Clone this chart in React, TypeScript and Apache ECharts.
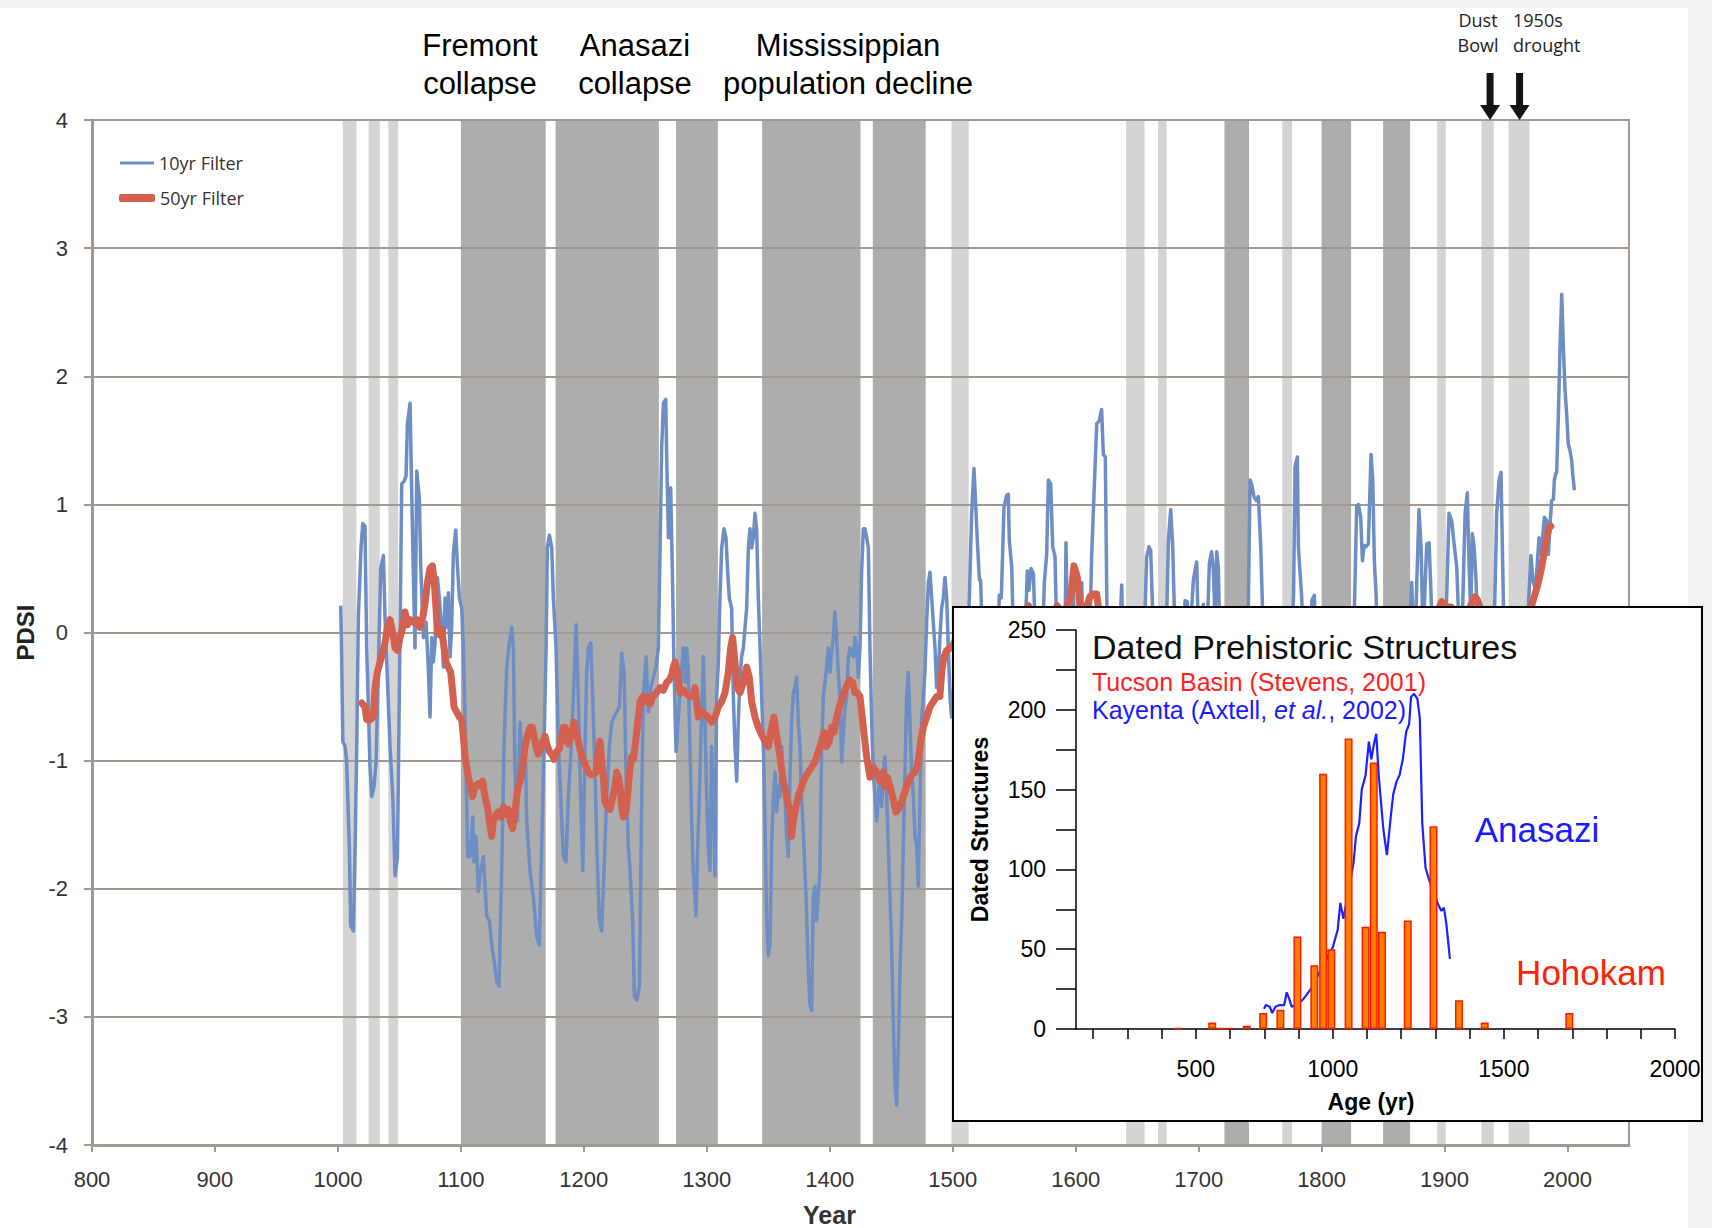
import React, { useEffect, useRef } from "react";
import * as echarts from "echarts";

// ---------------- main chart data ----------------
const X_TICKS = [800, 900, 1000, 1100, 1200, 1300, 1400, 1500, 1600, 1700, 1800, 1900, 2000];
const Y_TICKS = [-4, -3, -2, -1, 0, 1, 2, 3, 4];

const DARK_BANDS: [number, number][] = [
  [1100, 1169], [1177, 1261], [1275, 1309], [1345, 1425], [1435, 1478],
  [1721, 1741], [1800, 1824], [1850, 1872],
];
const LIGHT_BANDS: [number, number][] = [
  [1004, 1015], [1025, 1034], [1041, 1049], [1499, 1513], [1641, 1656],
  [1667, 1674], [1768, 1776], [1894, 1901], [1930, 1940], [1952, 1969],
];

const BLUE_10YR: [number, number][] = [
  [1002.3, 0.21], [1003, -0.16], [1004, -0.85], [1005.8, -0.89], [1007, -0.99], [1009.3, -1.67], [1010.4, -2.29],
  [1012.6, -2.33], [1014, -1.67], [1015.3, -0.89], [1016.6, 0.12], [1018.8, 0.66], [1020.2, 0.85], [1022, 0.83],
  [1023.4, -0.12], [1026.1, -1.05], [1027.5, -1.28], [1029.4, -1.2], [1031, -1.01], [1032.9, -0.27], [1034.8, 0.5],
  [1037, 0.6], [1038.3, 0.12], [1040.2, -0.35], [1042.4, -0.89], [1044.6, -1.28], [1046.5, -1.9], [1048.4, -1.75],
  [1050, -0.43], [1051.9, 1.16], [1053.8, 1.18], [1055.4, 1.22], [1056.5, 1.63], [1058.7, 1.79], [1059.7, 1.24],
  [1061.4, 0.43], [1062.7, -0.12], [1064.1, 1.26], [1066.2, 1.05], [1067.3, 0.54], [1069.5, -0.04], [1071.7, 0.08],
  [1073.5, -0.27], [1074.9, -0.66], [1076.3, -0.04], [1077.6, -0.23], [1079, -0.08], [1080.9, 0.43], [1082.5, 0.27],
  [1084.4, 0.04], [1085.8, -0.27], [1087.1, 0.27], [1088.5, 0.04], [1089.8, 0.31], [1091.2, -0.19], [1092.5, 0.04],
  [1093.9, 0.62], [1095.8, 0.8], [1097.1, 0.54], [1098.8, 0.27], [1100.7, 0.19], [1102, -0.12], [1103.9, -0.89],
  [1105.5, -1.75], [1107.5, -1.75], [1109.6, -1.44], [1110.7, -1.79], [1112.3, -1.59], [1114.2, -2.02], [1116.1, -1.86],
  [1118.3, -1.75], [1121, -2.21], [1123.2, -2.25], [1125.1, -2.44], [1127, -2.56], [1129.1, -2.72], [1131, -2.76],
  [1133.2, -1.86], [1135.1, -0.89], [1137.3, -0.27], [1139.4, -0.08], [1141.3, 0.04], [1142.7, -0.12], [1144, -1.09],
  [1145.9, -1.47], [1148.1, -0.7], [1150.3, -1.09], [1152.2, -0.81], [1153.5, -1.47], [1156.2, -1.86], [1158.9, -2.06],
  [1161.7, -2.37], [1163.8, -2.44], [1165.7, -1.67], [1167.6, -0.89], [1169.3, -0.12], [1170.3, 0.66], [1172, 0.76],
  [1173.9, 0.66], [1175.2, 0.27], [1177.4, -0.12], [1179.3, -0.89], [1181.2, -1.28], [1183.4, -1.75], [1185.5, -1.79],
  [1187.4, -1.28], [1189.3, -0.97], [1191.5, -0.5], [1193.7, 0.06], [1195.5, -0.5], [1197.4, -1.28], [1199.1, -1.86],
  [1201, -0.89], [1202.3, -0.31], [1203.7, -0.12], [1205.6, -0.08], [1207.2, -0.5], [1209.1, -1.09], [1210.5, -1.67],
  [1212.6, -2.25], [1214.5, -2.33], [1216.4, -1.86], [1218.6, -1.28], [1220.8, -0.89], [1222.7, -0.7], [1224.6, -0.66],
  [1226.7, -0.62], [1228.9, -0.58], [1230.8, -0.16], [1232.7, -0.31], [1234.3, -1.09], [1236.2, -1.67], [1237.6, -1.86],
  [1239.7, -2.25], [1241.1, -2.83], [1243, -2.87], [1245.2, -2.76], [1247.1, -1.28], [1248.4, -0.5], [1250.6, -0.19],
  [1252.5, -0.62], [1254.4, -0.43], [1256.5, -0.35], [1258.7, -0.27], [1260.6, -0.12], [1262, 0.66], [1263.3, 1.44],
  [1264.7, 1.79], [1266.6, 1.82], [1267.4, 1.36], [1268.8, 0.74], [1270.6, 1.13], [1272, 0.47], [1273.4, -0.31],
  [1275, -0.93], [1278.2, -0.47], [1280.9, -0.12], [1282.3, -0.39], [1283.6, -0.12], [1285, -0.31], [1286.3, -0.89],
  [1287.7, -1.47], [1289, -1.86], [1291.2, -2.21], [1292.6, -1.67], [1293.9, -1.28], [1295, -0.89], [1297.2, -0.19],
  [1298.5, -0.7], [1299.9, -1.28], [1301.2, -1.67], [1302.6, -1.86], [1303.9, -0.89], [1305.3, -1.28], [1306.7, -1.9],
  [1308, -0.5], [1309.4, -0.23], [1310.7, 0.27], [1312.1, 0.66], [1314, 0.81], [1315.6, 0.74], [1317, 0.47],
  [1318.3, 0.27], [1320.2, 0.19], [1321.6, -0.5], [1322.9, -0.89], [1324.3, -1.16], [1325.6, -0.7], [1327, -0.35],
  [1328.3, -0.19], [1329.7, -0.12], [1331.1, 0.04], [1332.4, 0.19], [1333.8, 0.66], [1335.1, 0.81], [1336.5, 0.66],
  [1337.8, 0.74], [1339.2, 0.93], [1340.5, 0.81], [1341.9, 0.27], [1343.3, -0.12], [1344.6, -0.5], [1346, -0.89],
  [1347.3, -1.47], [1348.7, -2.25], [1350, -2.52], [1351.4, -2.44], [1352.7, -1.67], [1354.1, -1.28], [1355.5, -1.09],
  [1356.8, -1.4], [1358.2, -1.2], [1359.5, -1.28], [1360.9, -0.89], [1362.2, -1.09], [1363.6, -1.28], [1364.9, -1.59],
  [1366.3, -1.75], [1367.7, -1.09], [1369, -0.7], [1370.4, -0.47], [1371.7, -0.43], [1373.1, -0.35], [1374.4, -0.7],
  [1375.8, -0.89], [1377.1, -1.28], [1379, -1.67], [1380.7, -2.06], [1382.6, -2.64], [1383.9, -2.91], [1385.3, -2.95],
  [1386.6, -2.06], [1388, -1.98], [1389.3, -2.25], [1390.7, -2.06], [1392, -1.86], [1393.4, -0.89], [1394.8, -0.5],
  [1396.1, -0.39], [1397.5, -0.27], [1398.8, -0.12], [1400.2, -0.31], [1401.5, -0.16], [1402.9, -0.04], [1404.2, 0.16],
  [1405.6, -0.04], [1406.9, -0.31], [1408.3, -0.5], [1409.7, -1.01], [1411, -0.81], [1412.4, -0.58], [1413.7, -0.5],
  [1415.1, -0.19], [1416.4, -0.12], [1417.8, -0.16], [1419.2, -0.19], [1420.5, -0.04], [1421.9, -0.12], [1423.2, -0.35],
  [1424.6, -0.12], [1425.9, 0.47], [1427.3, 0.81], [1428.6, 0.81], [1430, 0.74], [1431.4, 0.66], [1432.7, -0.12],
  [1434.1, -0.7], [1435.4, -1.09], [1436.8, -1.28], [1438.1, -1.47], [1439.5, -1.28], [1440.8, -1.09], [1442.2, -1.36],
  [1443.6, -1.09], [1444.9, -0.97], [1446.3, -1.28], [1447.6, -1.67], [1449, -2.06], [1450.3, -2.44], [1451.7, -3.03],
  [1453, -3.53], [1454.4, -3.69], [1455.8, -3.22], [1457.1, -2.64], [1458.5, -2.25], [1459.8, -1.67], [1461.2, -1.09],
  [1462.5, -0.5], [1463.9, -0.31], [1465.2, -0.7], [1466.6, -1.09], [1468, -1.28], [1469.3, -1.59], [1470.7, -1.67],
  [1472, -1.98], [1473.4, -1.28], [1474.7, -0.7], [1476.1, -0.5], [1477.4, -0.31], [1478.8, 0.08], [1480.2, 0.39],
  [1481.5, 0.47], [1482.9, 0.27], [1484.2, 0.08], [1485.6, -0.12], [1486.9, -0.43], [1488.3, -0.31], [1489.6, -0.04],
  [1491, 0.19], [1492.3, 0.27], [1493.7, 0.43], [1495.1, 0.27], [1496.4, -0.12], [1497.8, -0.5], [1499.1, -0.66],
  [1501, -0.4], [1505, -1.0], [1511, -0.6], [1515.4, 0.93], [1517.3, 1.28], [1519, 0.93], [1520, 0.72],
  [1521.7, 0.41], [1522.7, 0.41], [1524.5, -0.2], [1530, -1.2], [1536, -0.3], [1537.9, 0.29], [1539.5, 0.27],
  [1541.7, 0.98], [1543.9, 1.07], [1545.2, 1.08], [1546, 0.72], [1548, 0.51], [1549.5, -0.1], [1554, -0.9],
  [1558.5, -0.1], [1560.7, 0.48], [1562, 0.33], [1563.7, 0.5], [1565.6, 0.46], [1567.5, -0.1], [1570, -0.8],
  [1573, -0.1], [1574.5, 0.39], [1576.4, 0.61], [1577.8, 1.19], [1579.7, 1.16], [1581.3, 0.67], [1583.2, 0.59],
  [1585, -0.2], [1589, -0.7], [1591.5, 0.1], [1592.1, 0.7], [1593.5, -0.1], [1596, -0.6], [1598.1, 0.33],
  [1600, -0.4], [1603, -0.2], [1604.9, 0.39], [1606.5, -0.3], [1609, -0.9], [1611.5, 0.0], [1613, 0.6],
  [1617.1, 1.63], [1619, 1.65], [1621.1, 1.74], [1622.5, 1.39], [1624.1, 1.37], [1625.5, 0.1], [1629, -0.8],
  [1635, -0.2], [1637.4, 0.37], [1638.8, -0.2], [1645, -1.0], [1655, -0.3], [1657.7, 0.59], [1659.6, 0.67],
  [1661, 0.64], [1663.5, -0.1], [1668, -0.9], [1673.5, -0.1], [1675.4, 0.72], [1677.3, 0.96], [1678.9, 0.67],
  [1681, -0.1], [1685, -0.7], [1688.9, 0.25], [1690.8, 0.24], [1692, -0.2], [1695.7, 0.41], [1698.4, 0.55],
  [1700, -0.1], [1703.8, 0.22], [1706, -0.3], [1708.7, 0.54], [1710.6, 0.63], [1712, 0.48], [1713.3, 0.1],
  [1714.7, 0.63], [1716, 0.51], [1717.5, -0.2], [1725, -1.2], [1735, -0.8], [1740, -0.1], [1741.8, 1.19],
  [1743.1, 1.16], [1745, 1.06], [1746.7, 1.03], [1748.6, 1.06], [1750.5, 0.67], [1752.2, 0.1], [1758, -0.9],
  [1765, -0.5], [1770, -1.0], [1776.5, 0.1], [1777.2, 0.3], [1778.4, 1.29], [1780.3, 1.37], [1781.1, 0.67],
  [1782.5, 0.46], [1783.8, 0.28], [1785, -0.1], [1789, -0.4], [1792, 0.25], [1794.1, 0.29], [1795.5, -0.2],
  [1800, -1.0], [1812, -1.3], [1820, -0.6], [1826.5, 0.1], [1828.5, 0.98], [1829.9, 1.0], [1831.8, 0.9],
  [1833.2, 0.56], [1834.5, 0.68], [1835.9, 0.67], [1838, 0.69], [1840.2, 1.39], [1841.6, 1.19], [1842.9, 0.56],
  [1844.3, 0.3], [1846, -0.3], [1855, -1.1], [1865, -0.7], [1872, 0.1], [1873.3, 0.39], [1874.5, 0.0],
  [1876.5, 0.1], [1879.2, 0.96], [1880.9, 0.67], [1882.2, 0.1], [1883.5, 0.2], [1885.5, 0.69], [1887.4, 0.7],
  [1889, 0.3], [1890.5, -0.2], [1896, -0.8], [1901.2, 0.1], [1903.6, 0.93], [1905.8, 0.87], [1908, 0.67],
  [1909.9, 0.51], [1911.5, 0.1], [1914, -0.1], [1915.3, 0.41], [1916.7, 0.93], [1918.5, 1.09], [1919.9, 0.54],
  [1921.3, 0.15], [1922.6, 0.77], [1924, 0.67], [1925.6, 0.41], [1927.5, -0.2], [1933, -1.0], [1940.5, 0.1],
  [1942.4, 0.93], [1944.3, 1.19], [1945.9, 1.25], [1947, 0.67], [1948.5, -0.1], [1955, -1.1], [1962, -0.6],
  [1967.5, 0.1], [1968.2, 0.22], [1970.3, 0.6], [1971.8, 0.41], [1973.6, 0.35], [1975, 0.48], [1976.8, 0.74],
  [1978.4, 0.61], [1980.3, 0.8], [1981.2, 0.9], [1983.1, 0.87], [1984.4, 0.61], [1985.8, 0.85], [1987.1, 1.03],
  [1988.5, 1.04], [1989.3, 1.19], [1990.4, 1.24], [1991.2, 1.25], [1992.6, 1.71], [1993.9, 2.23], [1995.3, 2.64],
  [1996.6, 2.23], [1998, 1.89], [1999.3, 1.71], [2000.6, 1.47], [2002, 1.42], [2003.4, 1.34], [2004.2, 1.24],
  [2005.6, 1.11],
];

const RED_50YR: [number, number][] = [
  [1019.4, -0.55], [1022, -0.58], [1023.4, -0.68], [1026.1, -0.68], [1028.8, -0.66], [1030.2, -0.43], [1032.1, -0.31],
  [1034.3, -0.23], [1036.4, -0.16], [1038.3, -0.08], [1040.2, 0.04], [1042.4, 0.1], [1044.6, 0], [1046.5, -0.12],
  [1048.4, -0.14], [1050.5, -0.04], [1052.7, 0.04], [1054.6, 0.16], [1056.5, 0.06], [1058.7, 0.1], [1061.4, 0.08],
  [1064.1, 0.1], [1066.8, 0.04], [1069, 0.12], [1070.9, 0.23], [1072.8, 0.39], [1074.9, 0.5], [1076.8, 0.52],
  [1078.4, 0.39], [1079.8, 0.19], [1080.9, 0], [1083, -0.02], [1084.4, 0.02], [1085.8, -0.08], [1087.9, -0.23],
  [1089.8, -0.27], [1091.7, -0.31], [1093.4, -0.47], [1094.4, -0.58], [1096.6, -0.62], [1098.8, -0.66], [1100.7, -0.68],
  [1102, -0.81], [1103.4, -0.97], [1106.1, -1.13], [1107.9, -1.2], [1109.6, -1.28], [1111.5, -1.2], [1114.2, -1.18],
  [1116.1, -1.2], [1117.7, -1.16], [1119.6, -1.28], [1121.6, -1.36], [1123.7, -1.51], [1125.1, -1.59], [1126.4, -1.47],
  [1128.6, -1.42], [1130.5, -1.4], [1132.4, -1.44], [1134.6, -1.36], [1136.7, -1.42], [1138.6, -1.38], [1140, -1.47],
  [1142.1, -1.53], [1144, -1.4], [1145.9, -1.24], [1148.1, -1.16], [1150.3, -1.05], [1152.2, -0.89], [1154.1, -0.81],
  [1156.2, -0.74], [1158.1, -0.74], [1159.5, -0.81], [1161.1, -0.89], [1163, -0.95], [1164.9, -0.89], [1166.5, -0.85],
  [1168.4, -0.81], [1169.8, -0.87], [1172, -0.93], [1173.9, -0.95], [1175.8, -0.99], [1177.9, -0.93], [1180.1, -0.91],
  [1182, -0.81], [1183.4, -0.74], [1184.7, -0.74], [1186.1, -0.83], [1187.4, -0.87], [1189.3, -0.81], [1191, -0.74],
  [1192.1, -0.7], [1193.7, -0.78], [1195.5, -0.85], [1197.4, -0.93], [1199.6, -0.99], [1201.8, -1.05], [1203.7, -1.09],
  [1205.6, -1.11], [1207.7, -1.11], [1209.9, -1.09], [1211.8, -0.93], [1213.2, -0.85], [1214.5, -1.01], [1215.9, -1.13],
  [1217.2, -1.32], [1219.1, -1.36], [1221.3, -1.38], [1223.5, -1.28], [1225.4, -1.2], [1226.7, -1.09], [1228.1, -1.13],
  [1229.4, -1.2], [1230.8, -1.36], [1232.1, -1.44], [1234.3, -1.4], [1236.2, -1.2], [1237.6, -1.05], [1238.9, -0.97],
  [1240.3, -0.99], [1241.6, -0.89], [1243, -0.78], [1244.3, -0.66], [1245.7, -0.54], [1247.9, -0.5], [1249.8, -0.54],
  [1251.7, -0.5], [1253.8, -0.56], [1256, -0.5], [1259.2, -0.47], [1261.9, -0.43], [1264.7, -0.45], [1267.4, -0.39],
  [1269.6, -0.37], [1271.5, -0.33], [1272.8, -0.27], [1274.2, -0.23], [1276.1, -0.31], [1278.2, -0.47], [1281, -0.45],
  [1283.7, -0.48], [1286.4, -0.5], [1289.1, -0.49], [1290.4, -0.43], [1293.1, -0.66], [1295.8, -0.62], [1298.5, -0.64],
  [1301.2, -0.66], [1303.9, -0.7], [1306.7, -0.66], [1309.4, -0.58], [1312.1, -0.54], [1314.8, -0.47], [1317.5, -0.31],
  [1319.4, -0.12], [1321, -0.04], [1322.9, -0.23], [1324.8, -0.43], [1327, -0.47], [1329.7, -0.39], [1332.4, -0.27],
  [1334.6, -0.35], [1336.5, -0.54], [1339.2, -0.66], [1341.9, -0.74], [1344.6, -0.8], [1347.3, -0.85], [1350, -0.89],
  [1352.7, -0.74], [1354.6, -0.66], [1356.8, -0.81], [1359.5, -0.97], [1362.2, -1.16], [1364.9, -1.28], [1367.7, -1.4],
  [1369, -1.59], [1370.4, -1.47], [1372.5, -1.36], [1374.4, -1.28], [1377.1, -1.2], [1379.9, -1.13], [1382.6, -1.09],
  [1385.3, -1.05], [1388, -1.01], [1390.7, -0.93], [1393.4, -0.85], [1395.3, -0.78], [1397.5, -0.89], [1399.6, -0.85],
  [1401.5, -0.74], [1403.4, -0.78], [1405.6, -0.66], [1407.8, -0.58], [1410.5, -0.5], [1413.2, -0.43], [1415.9, -0.37],
  [1418.6, -0.39], [1420.5, -0.47], [1422.4, -0.47], [1424.6, -0.5], [1427.3, -0.74], [1430, -0.97], [1432.7, -1.13],
  [1435.4, -1.05], [1438.1, -1.09], [1440.8, -1.16], [1443.6, -1.09], [1444.9, -1.2], [1446.8, -1.13], [1449, -1.2],
  [1451.1, -1.28], [1453.9, -1.4], [1455.8, -1.38], [1458.5, -1.32], [1461.2, -1.24], [1463.9, -1.16], [1466.6, -1.11],
  [1469.3, -1.09], [1472, -1.01], [1473.9, -0.85], [1476.1, -0.74], [1478.8, -0.66], [1481.5, -0.58], [1484.2, -0.54],
  [1486.9, -0.5], [1489.6, -0.5], [1491, -0.31], [1492.9, -0.19], [1495.1, -0.14], [1497.8, -0.12], [1499.1, -0.12],
  [1505, 0.0], [1515, -0.1], [1530, -0.2], [1545, 0.0], [1556, 0.1], [1561.5, 0.21], [1566, 0.1], [1575, 0.0],
  [1582, 0.15], [1585, 0.21], [1590, 0.12], [1596, 0.28], [1598.6, 0.52], [1601.4, 0.43], [1603.5, 0.2],
  [1607, 0.15], [1611.6, 0.28], [1614, 0.3], [1617.1, 0.3], [1619, 0.15], [1630, -0.1], [1650, -0.3],
  [1670, -0.2], [1690, -0.1], [1710, 0.0], [1730, -0.2], [1750, -0.1], [1770, -0.2], [1790, -0.1], [1810, -0.3],
  [1830, -0.1], [1850, -0.2], [1870, -0.1], [1885, 0.05], [1895, 0.18], [1897.7, 0.24], [1901.7, 0.2],
  [1905.3, 0.2], [1910, 0.1], [1918, 0.15], [1924.8, 0.28], [1927, 0.25], [1932, 0.1], [1945, 0.0], [1960, 0.05],
  [1968, 0.15], [1970.8, 0.21], [1973.6, 0.3], [1976, 0.38], [1979, 0.51], [1981.2, 0.64], [1983.1, 0.74],
  [1985, 0.82], [1986.5, 0.83],
];

const ARROW_YEARS = [1937, 1961];
const LEGEND_NAMES = ["10yr Filter", "50yr Filter"];
const TOP_NOTES = ["Fremont\ncollapse", "Anasazi\ncollapse", "Mississippian\npopulation decline"];
const MODERN_NOTES = ["Dust\nBowl", "1950s\ndrought"];

// ---------------- inset data ----------------
const INSET_BAR_X = [435, 560, 591, 622, 686, 746, 809, 871, 933, 965, 995, 1058, 1120, 1150, 1180, 1274, 1368, 1461, 1555, 1864];
const INSET_BAR_Y = [0.5, 4, 0.5, 0.5, 2, 10, 12, 58, 40, 160, 50, 182, 64, 167, 61, 68, 127, 18, 4, 10];
const KAYENTA: [number, number][] = [
  [749, 12.7], [756, 15], [770, 14], [779, 10], [791, 14], [806, 15], [823, 15], [832, 23], [841, 19], [850, 14],
  [870, 15], [894, 19], [920, 25], [1000, 51], [1018, 62], [1028, 79], [1039, 69], [1076, 104], [1085, 121],
  [1097, 129], [1106, 150], [1120, 159], [1132, 180], [1141, 169], [1150, 178], [1159, 185], [1168, 159], [1185, 125],
  [1198, 109], [1212, 133], [1221, 147], [1233, 155], [1244, 159], [1256, 169], [1268, 186], [1279, 191], [1286, 208],
  [1297, 210], [1309, 207], [1318, 195], [1327, 129], [1339, 101], [1353, 93], [1385, 78], [1397, 74], [1406, 76],
  [1415, 66], [1428, 44],
];
const INSET_Y_TICKS = [0, 25, 50, 75, 100, 125, 150, 175, 200, 225, 250];
const INSET_X_TICKS = [125, 250, 375, 500, 625, 750, 875, 1000, 1125, 1250, 1375, 1500, 1625, 1750, 1875, 2000, 2125, 2250];
const INSET_X_LABEL_AT = [500, 1000, 1625, 2250];
const INSET_X_LABEL_TEXT = ["500", "1000", "1500", "2000"];
const INSET_TITLES = ["Dated Prehistoric Structures", "Tucson Basin (Stevens, 2001)"];
const INSET_NAMES = ["Anasazi", "Hohokam"];

// ---------------- styling ----------------
const GRID = "#a39890";
const BLUE = "#6d8ec4";
const RED = "#d4604f";
const DARK = "#adadad";
const LIGHT = "#d4d4d4";
const SANS = '"Liberation Sans", Arial, sans-serif';
const NARROW = '"Liberation Sans Narrow", "Liberation Sans", sans-serif';
const OPEN = '"Open Sans", sans-serif';
const ARROW = "path://M6.5,0 L13.5,0 L13.5,32 L20,32 L10,47 L0,32 L6.5,32 Z";

function text(x: number, y: number, t: string, style: any, z = 20) {
  return {
    type: "text",
    x,
    y,
    z,
    silent: true,
    style: {
      text: t,
      fill: "#000",
      align: "center",
      verticalAlign: "middle",
      textAlign: "center",
      textVerticalAlign: "middle",
      ...style,
    },
  };
}

function buildOption() {
  const bandData = [
    ...DARK_BANDS.map(([a, b]) => [{ xAxis: a, itemStyle: { color: DARK, opacity: 1 } }, { xAxis: b }]),
    ...LIGHT_BANDS.map(([a, b]) => [{ xAxis: a, itemStyle: { color: LIGHT, opacity: 1 } }, { xAxis: b }]),
  ];
  const topX = [480, 635, 848];
  const legendText = { fontFamily: OPEN, fontSize: 18, color: "#333" };
  const left = (s: any) => ({ ...s, align: "left", textAlign: "left" });

  return {
    animation: false,
    grid: [
      {
        left: 92, top: 120, width: 1537, height: 1025, show: true, borderColor: GRID, borderWidth: 2,
        backgroundColor: "transparent", z: 2, containLabel: false, outerBoundsMode: "none",
      },
      { left: 1076, top: 630, width: 599, height: 399, z: 11, containLabel: false, outerBoundsMode: "none" },
    ],
    legend: [
      {
        left: 115, top: 149, itemWidth: 34, itemHeight: 8, selectedMode: false, textStyle: legendText,
        data: [{ name: LEGEND_NAMES[0], icon: "path://M0,0 M34,8 M0,2.5 L34,2.5 L34,5.5 L0,5.5 Z", itemStyle: { color: BLUE, borderWidth: 0 } }],
      },
      {
        left: 114, top: 184, itemWidth: 36, itemHeight: 8, selectedMode: false, textStyle: legendText,
        data: [{ name: LEGEND_NAMES[1], icon: "roundRect", itemStyle: { color: RED, borderWidth: 0 } }],
      },
    ],
    xAxis: [
      {
        type: "value", gridIndex: 0, min: 800, max: 2050, interval: 100, z: 2,
        axisLine: { show: true, onZero: false, lineStyle: { color: GRID, width: 3 } },
        axisTick: { show: true, length: 7, customValues: X_TICKS, lineStyle: { color: GRID, width: 2 } },
        axisLabel: {
          customValues: X_TICKS, margin: 23, fontFamily: SANS, fontSize: 22, color: "#333",
          formatter: (v: number) => (v % 100 === 0 && v <= 2000 ? String(v) : ""),
        },
        splitLine: { show: false },
        name: "Year", nameLocation: "middle", nameGap: 57,
        nameTextStyle: { fontFamily: NARROW, fontWeight: "bold", fontSize: 25, color: "#333", padding: [0, 62, 0, 0] },
      },
      {
        type: "value", gridIndex: 1, min: 62.5, max: 2250, z: 11,
        axisLine: { show: true, onZero: false, lineStyle: { color: "#000", width: 1.5 } },
        axisTick: { show: true, length: 10, customValues: INSET_X_TICKS, lineStyle: { color: "#000", width: 1.5 } },
        axisLabel: {
          customValues: INSET_X_LABEL_AT, margin: 28, fontFamily: SANS, fontSize: 23, color: "#000",
          formatter: (v: number) => {
            const i = INSET_X_LABEL_AT.indexOf(v);
            return i >= 0 ? INSET_X_LABEL_TEXT[i] : "";
          },
        },
        splitLine: { show: false },
        name: "Age (yr)", nameLocation: "middle", nameGap: 61,
        nameTextStyle: { fontFamily: SANS, fontWeight: "bold", fontSize: 23, color: "#000", padding: [0, 9, 0, 0] },
      },
    ],
    yAxis: [
      {
        type: "value", gridIndex: 0, min: -4, max: 4, interval: 1, z: 2,
        axisLine: { show: true, onZero: false, lineStyle: { color: GRID, width: 3 } },
        axisTick: { show: true, length: 8, lineStyle: { color: GRID, width: 2 } },
        axisLabel: { margin: 24, fontFamily: SANS, fontSize: 22, color: "#333", formatter: (v: number) => (Y_TICKS.includes(v) ? String(v) : "") },
        splitLine: { show: true, lineStyle: { color: GRID, width: 2 } },
        name: "PDSI", nameLocation: "middle", nameGap: 53, nameRotate: 90,
        nameTextStyle: { fontFamily: NARROW, fontWeight: "bold", fontSize: 24, color: "#222" },
      },
      {
        type: "value", gridIndex: 1, min: 0, max: 250, interval: 25, z: 11,
        axisLine: { show: true, onZero: false, lineStyle: { color: "#000", width: 1.5 } },
        axisTick: { show: true, length: 20, lineStyle: { color: "#000", width: 1.5 } },
        axisLabel: {
          margin: 30, fontFamily: SANS, fontSize: 23, color: "#000",
          formatter: (v: number) => (INSET_Y_TICKS.includes(v) && v % 50 === 0 ? String(v) : ""),
        },
        splitLine: { show: false },
        name: "Dated Structures", nameLocation: "middle", nameGap: 85, nameRotate: 90,
        nameTextStyle: { fontFamily: SANS, fontWeight: "bold", fontSize: 23, color: "#000" },
      },
    ],
    series: [
      {
        name: LEGEND_NAMES[0], type: "line", xAxisIndex: 0, yAxisIndex: 0, data: BLUE_10YR,
        showSymbol: false, symbol: "none", color: BLUE, z: 3, silent: true,
        lineStyle: { color: BLUE, width: 3.5, join: "round" },
        markArea: { silent: true, z: 1, label: { show: false }, data: bandData },
      },
      {
        name: LEGEND_NAMES[1], type: "line", xAxisIndex: 0, yAxisIndex: 0, data: RED_50YR,
        showSymbol: false, symbol: "none", color: RED, z: 4, silent: true,
        lineStyle: { color: RED, width: 7, join: "round", cap: "round" },
        markPoint: {
          silent: true, symbol: ARROW, symbolSize: [20, 47], symbolOffset: [0, "-50%"],
          itemStyle: { color: "#141414" }, label: { show: false },
          data: ARROW_YEARS.map((y) => ({ coord: [y, 4] })),
        },
      },
      {
        name: "Kayenta", type: "line", xAxisIndex: 1, yAxisIndex: 1, data: KAYENTA,
        showSymbol: false, symbol: "none", z: 12, silent: true,
        lineStyle: { color: "#1a22ff", width: 2.2 },
      },
      {
        name: "Tucson Basin", type: "bar", xAxisIndex: 1, yAxisIndex: 1, barWidth: 8, z: 13, silent: true,
        data: INSET_BAR_X.map((x, i) => [x, INSET_BAR_Y[i]]),
        itemStyle: { color: "#ff7f00", borderColor: "#ff1a00", borderWidth: 1.5 },
      },
    ],
    graphic: [
      { type: "rect", z: 10, silent: true, shape: { x: 953, y: 607, width: 749, height: 514 }, style: { fill: "#fff", stroke: "#000", lineWidth: 2 } },
      ...TOP_NOTES.map((t, i) => text(topX[i], 64, t, { fontFamily: SANS, fontSize: 31, lineHeight: 38 })),
      text(1478, 32, MODERN_NOTES[0], { fontFamily: OPEN, fontSize: 18, lineHeight: 25, fill: "#222" }),
      text(1513, 32, MODERN_NOTES[1], left({ fontFamily: OPEN, fontSize: 18, lineHeight: 25, fill: "#222" })),
      text(1092, 647, INSET_TITLES[0], left({ fontFamily: SANS, fontSize: 34, fill: "#111" })),
      text(1092, 682, INSET_TITLES[1], left({ fontFamily: SANS, fontSize: 25, fill: "#ff1f1f" })),
      text(1092, 710, "{a|Kayenta (Axtell, }{b|et al.}{a|, 2002)}", left({
        fontFamily: SANS, fontSize: 25, fill: "#1a1aff",
        rich: {
          a: { fontFamily: SANS, fontSize: 25, fill: "#1a1aff", color: "#1a1aff" },
          b: { fontFamily: SANS, fontSize: 25, fontStyle: "italic", fill: "#1a1aff", color: "#1a1aff" },
        },
      })),
      text(1537, 829, INSET_NAMES[0], { fontFamily: SANS, fontSize: 35, fill: "#1a1aff" }),
      text(1591, 972, INSET_NAMES[1], { fontFamily: SANS, fontSize: 35, fill: "#ff2200" }),
    ],
  };
}

export default function App() {
  const ref = useRef<HTMLDivElement>(null);
  useEffect(() => {
    if (!ref.current) return;
    const chart = echarts.init(ref.current, null, { renderer: "svg" });
    chart.setOption(buildOption() as any);
    return () => chart.dispose();
  }, []);
  return (
    <div style={{ position: "absolute", left: 0, top: 0, width: 1712, height: 1228, background: "#f2f2f2", overflow: "hidden" }}>
      <div style={{ position: "absolute", left: 0, top: 8, width: 1688, height: 1220, background: "#fff" }} />
      <div ref={ref} style={{ position: "absolute", left: 0, top: 0, width: 1712, height: 1228 }} />
    </div>
  );
}
